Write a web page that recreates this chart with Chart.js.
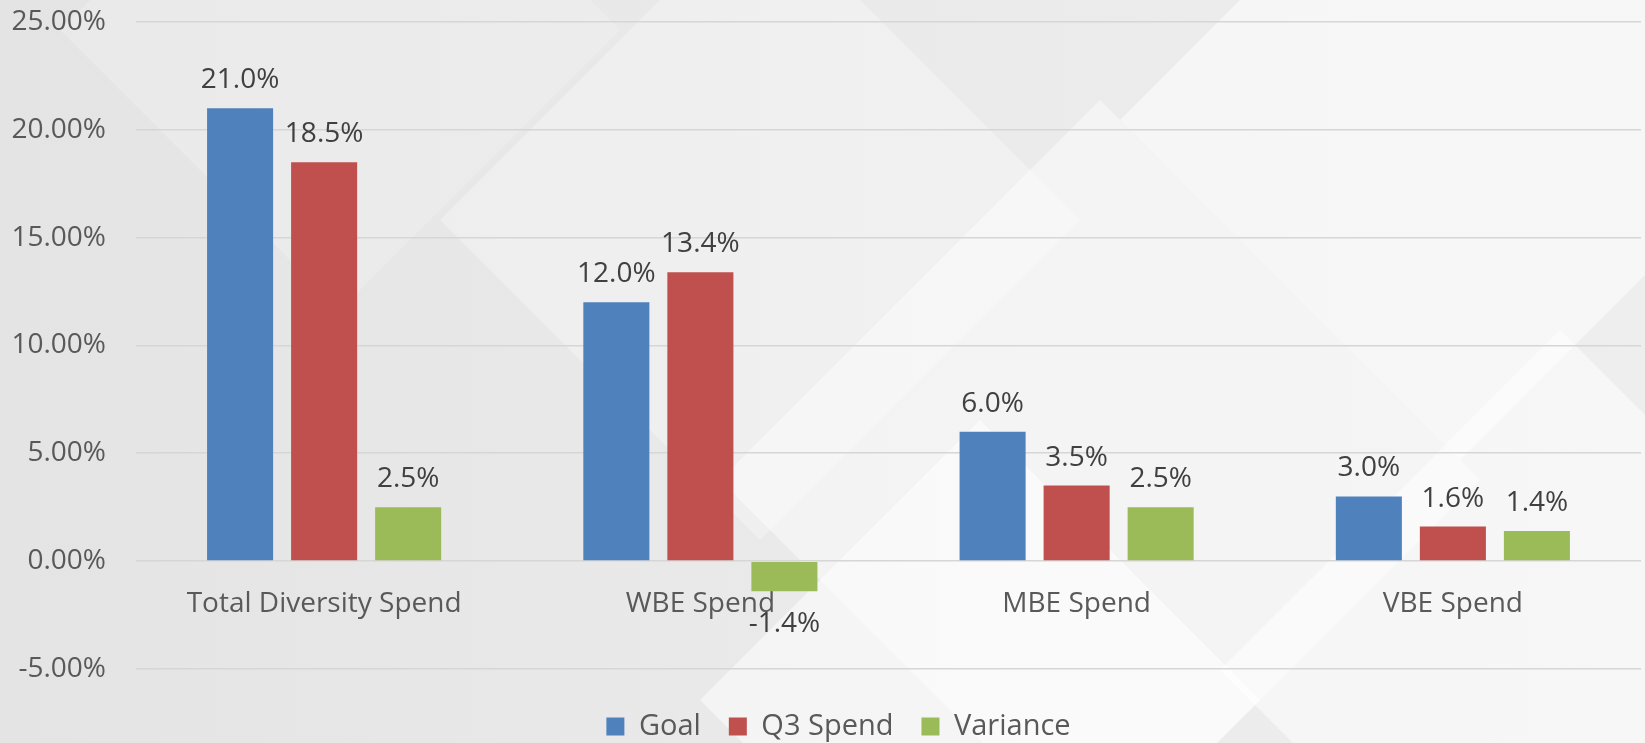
<!DOCTYPE html>
<html>
<head>
<meta charset="utf-8">
<script src="https://cdn.jsdelivr.net/npm/chart.js@4"></script>
<style>
  html, body { margin: 0; padding: 0; background: #e8e8e8; }
  #wrap { width: 1645px; height: 743px; }
</style>
</head>
<body>
<div id="wrap"><canvas id="spendChart" width="1645" height="743"></canvas></div>
<script>
// data (percent)
var categories = ['Total Diversity Spend', 'WBE Spend', 'MBE Spend', 'VBE Spend'];
var goal = [21.0, 12.0, 6.0, 3.0];
var q3Spend = [18.5, 13.4, 3.5, 1.6];
var variance = [2.5, -1.4, 2.5, 1.4];
var yTicks = [-5, 0, 5, 10, 15, 20, 25];

var fontFam = '"Open Sans", "Noto Sans", sans-serif';

// soft grey backdrop with pale diamonds
var backdrop = {
    id: 'backdrop',
    beforeDraw: function (chart) {
        var c = chart.ctx, w = chart.width, h = chart.height;
        c.save();
        var g = c.createLinearGradient(0, 0, w, 0);
        g.addColorStop(0, '#e4e4e4');
        g.addColorStop(0.5, '#eaeaea');
        g.addColorStop(1, '#eeeeee');
        c.fillStyle = g;
        c.fillRect(0, 0, w, h);
        var shapes = [
            [[1460, -220], [1800, 120], [1460, 460], [1120, 120]],
            [[1100, 100], [1480, 480], [1100, 860], [720, 480]],
            [[1560, 330], [1900, 670], [1560, 1010], [1220, 670]],
            [[760, -100], [1080, 220], [760, 540], [440, 220]],
            [[980, 420], [1260, 700], [980, 980], [700, 700]],
            [[340, -250], [620, 30], [340, 310], [60, 30]]
        ];
        var alphas = [0.55, 0.45, 0.5, 0.3, 0.5, 0.2];
        shapes.forEach(function (s, i) {
            c.fillStyle = 'rgba(255,255,255,' + alphas[i] + ')';
            c.beginPath();
            c.moveTo(s[0][0], s[0][1]);
            for (var k = 1; k < s.length; k++) c.lineTo(s[k][0], s[k][1]);
            c.closePath();
            c.fill();
        });
        c.restore();
    }
};

// value labels above / below each bar
var valueLabels = {
    id: 'valueLabels',
    afterDatasetsDraw: function (chart) {
        var c = chart.ctx;
        c.save();
        c.font = '28px ' + fontFam;
        c.fillStyle = '#404040';
        c.textAlign = 'center';
        c.textBaseline = 'alphabetic';
        chart.data.datasets.forEach(function (ds, i) {
            var meta = chart.getDatasetMeta(i);
            meta.data.forEach(function (bar, j) {
                var v = ds.data[j];
                var txt = v.toFixed(1) + '%';
                if (v >= 0) c.fillText(txt, bar.x, bar.y - 20);
                else c.fillText(txt, bar.x, bar.y + 41);
            });
        });
        c.restore();
    }
};

// legend sits a bit lower and to the right of where chart.js puts it
var legendNudge = {
    id: 'legendNudge',
    beforeInit: function (chart) {
        var fit = chart.legend.fit;
        chart.legend.fit = function () {
            fit.bind(chart.legend)();
            this.height -= 8;
        };
    },
    afterLayout: function (chart) {
        chart.legend.left += 18;
        chart.legend.right += 18;
    }
};

var ctx = document.getElementById('spendChart').getContext('2d');
var spendChart = new Chart(ctx, {
    type: 'bar',
    data: {
        labels: categories,
        datasets: [
            { label: 'Goal', data: goal, backgroundColor: '#4F81BD' },
            { label: 'Q3 Spend', data: q3Spend, backgroundColor: '#C0504D' },
            { label: 'Variance', data: variance, backgroundColor: '#9BBB59' }
        ]
    },
    options: {
        responsive: false,
        animation: false,
        layout: { padding: { top: 22, right: 4, left: 0, bottom: 0 } },
        datasets: {
            bar: { categoryPercentage: 0.67, barPercentage: 0.786 }
        },
        scales: {
            x: {
                position: { y: 0 },
                afterFit: function (scale) { scale.paddingTop = 0; },
                grid: { display: false },
                border: { display: false },
                ticks: { color: '#595959', padding: 18, font: { size: 28, family: fontFam } }
            },
            y: {
                min: -5.7,
                max: 25,
                afterBuildTicks: function (scale) {
                    scale.ticks = yTicks.map(function (v) { return { value: v }; });
                },
                afterFit: function (scale) { scale.width = 136; scale.paddingTop = 0; },
                grid: { color: '#d6d6d6', lineWidth: 1.6, drawTicks: false },
                border: { display: false },
                ticks: {
                    color: '#595959',
                    padding: 30,
                    font: { size: 28, family: fontFam },
                    callback: function (v) { return v.toFixed(2) + '%'; }
                }
            }
        },
        plugins: {
            legend: {
                position: 'bottom',
                labels: {
                    color: '#595959',
                    boxWidth: 18,
                    boxHeight: 18,
                    padding: 28,
                    font: { size: 29, family: fontFam }
                }
            },
            tooltip: { enabled: false }
        }
    },
    plugins: [backdrop, valueLabels, legendNudge]
});
</script>
</body>
</html>
